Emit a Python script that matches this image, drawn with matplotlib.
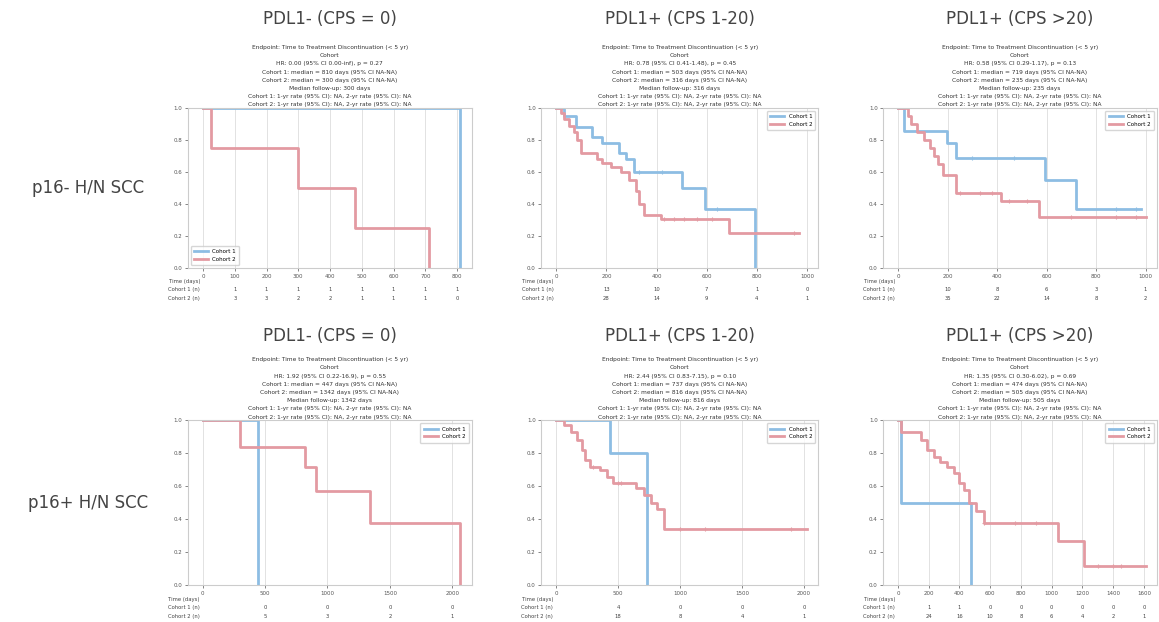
import numpy as np
from matplotlib import pyplot as plt
from matplotlib import transforms

# panel labels
col_titles = ['PDL1- (CPS = 0)', 'PDL1+ (CPS 1-20)', 'PDL1+ (CPS >20)']
row_labels = ['p16- H/N SCC', 'p16+ H/N SCC']
group_names = ['Cohort 1', 'Cohort 2']

# x ticks of each panel (row-major)
xticks = [
    [0, 100, 200, 300, 400, 500, 600, 700, 800],
    [0, 200, 400, 600, 800, 1000],
    [0, 200, 400, 600, 800, 1000],
    [0, 500, 1000, 1500, 2000],
    [0, 500, 1000, 1500, 2000],
    [0, 200, 400, 600, 800, 1000, 1200, 1400, 1600],
]

# Kaplan-Meier step data: event times and survival after each step
# last entry of each list = end of follow up
blue_t = [
    [0, 810, 810],
    [0, 32, 77, 142, 181, 252, 277, 310, 503, 594, 794, 794],
    [0, 26, 196, 235, 595, 719, 980],
    [0, 447, 447],
    [0, 434, 737, 737],
    [0, 21, 474, 474],
]
blue_s = [
    [1.0, 0.0, 0.0],
    [1.0, 0.95, 0.88, 0.82, 0.78, 0.72, 0.68, 0.60, 0.50, 0.37, 0.0, 0.0],
    [1.0, 0.86, 0.78, 0.69, 0.55, 0.37, 0.37],
    [1.0, 0.0, 0.0],
    [1.0, 0.80, 0.0, 0.0],
    [1.0, 0.50, 0.0, 0.0],
]
red_t = [
    [0, 26, 300, 479, 710, 710],
    [0, 19, 32, 52, 71, 84, 97, 161, 181, 219, 258, 290, 316, 329, 348, 419, 690, 968],
    [0, 39, 52, 78, 105, 131, 144, 163, 183, 235, 418, 569, 1000],
    [0, 295, 816, 908, 1342, 2066, 2066],
    [0, 66, 118, 171, 211, 237, 276, 355, 408, 461, 645, 711, 763, 816, 868, 2026],
    [0, 21, 147, 189, 232, 274, 316, 368, 400, 432, 463, 505, 558, 1042, 1211, 1611],
]
red_s = [
    [1.0, 0.75, 0.50, 0.25, 0.0, 0.0],
    [1.0, 0.97, 0.93, 0.89, 0.85, 0.80, 0.72, 0.68, 0.66, 0.63, 0.60, 0.55, 0.48, 0.40, 0.33, 0.31, 0.22, 0.22],
    [1.0, 0.95, 0.90, 0.85, 0.80, 0.75, 0.70, 0.65, 0.58, 0.47, 0.42, 0.32, 0.32],
    [1.0, 0.84, 0.72, 0.57, 0.38, 0.0, 0.0],
    [1.0, 0.97, 0.93, 0.88, 0.82, 0.76, 0.72, 0.70, 0.66, 0.62, 0.59, 0.55, 0.50, 0.46, 0.34, 0.34],
    [1.0, 0.93, 0.88, 0.82, 0.78, 0.75, 0.72, 0.68, 0.62, 0.58, 0.50, 0.45, 0.38, 0.27, 0.12, 0.12],
]
# censored observations (times)
blue_cens = [[], [330, 420, 640], [300, 470, 880, 960], [], [], []]
red_cens = [[], [430, 470, 510, 560, 620, 950], [250, 330, 380, 450, 520, 700, 880, 960],
            [], [300, 500, 520, 1000, 1200, 1900], [560, 760, 900, 1300, 1400, 1450]]

# numbers at risk under each x tick
risk_blue = [
    [1, 1, 1, 1, 1, 1, 1, 1, 1],
    [18, 13, 10, 7, 1, 0],
    [14, 10, 8, 6, 3, 1],
    [1, 0, 0, 0, 0],
    [5, 4, 0, 0, 0],
    [2, 1, 1, 0, 0, 0, 0, 0, 0],
]
risk_red = [
    [4, 3, 3, 2, 2, 1, 1, 1, 0],
    [45, 28, 14, 9, 4, 1],
    [60, 35, 22, 14, 8, 2],
    [7, 5, 3, 2, 1],
    [40, 18, 8, 4, 1],
    [30, 24, 16, 10, 8, 6, 4, 2, 1],
]

# summary statistics printed above each panel
hr_text = ['0.00 (95% CI 0.00-inf), p = 0.27', '0.78 (95% CI 0.41-1.48), p = 0.45',
           '0.58 (95% CI 0.29-1.17), p = 0.13', '1.92 (95% CI 0.22-16.9), p = 0.55',
           '2.44 (95% CI 0.83-7.15), p = 0.10', '1.35 (95% CI 0.30-6.02), p = 0.69']
med_blue = ['810', '503', '719', '447', '737', '474']
med_red = ['300', '316', '235', '1342', '816', '505']

blue = '#8dbde3'
red = '#e39aa2'
txt = '#444444'

fig = plt.figure(figsize=(11.59, 6.22), dpi=100)
lefts = [0.162, 0.467, 0.762]
widths = [0.245, 0.239, 0.236]
bottoms = [0.569, 0.059]
heights = [0.257, 0.265]
title_y = [1.50, 1.46]

for i in range(2):
    for j in range(3):
        k = 3*i + j
        ax = fig.add_axes([lefts[j], bottoms[i], widths[j], heights[i]])
        ax.step(blue_t[k], blue_s[k], where='post', color=blue, lw=2, label=group_names[0])
        ax.step(red_t[k], red_s[k], where='post', color=red, lw=2, label=group_names[1])
        # censor ticks
        for cens, tt, ss, c in [(blue_cens[k], blue_t[k], blue_s[k], blue), (red_cens[k], red_t[k], red_s[k], red)]:
            if cens:
                yv = [ss[np.searchsorted(tt, x, side='right') - 1] for x in cens]
                ax.plot(cens, yv, '+', color=c, ms=3, mew=0.8)

        span = xticks[k][-1] - xticks[k][0]
        right = max(blue_t[k][-1], red_t[k][-1])
        ax.set_xlim(-0.06*span, max(right, xticks[k][-1]) + 0.045*span)
        ax.set_ylim(0, 1.0)
        ax.set_xticks(xticks[k])
        ax.set_yticks([0, 0.2, 0.4, 0.6, 0.8, 1.0])
        ax.tick_params(labelsize=4, colors='#555555', length=2, width=0.5, pad=2)
        ax.grid(axis='x', color='#dddddd', lw=0.6)
        for sp in ax.spines.values():
            sp.set_color('#cccccc')
            sp.set_linewidth(0.8)
        loc = 'lower left' if k == 0 else 'upper right'
        ax.legend(loc=loc, fontsize=4, frameon=True, handlelength=2.5, borderpad=0.6)

        # at-risk table, labels end just left of the zero tick
        trans = ax.get_xaxis_transform()
        lab_tr = trans + transforms.ScaledTranslation(-2/72, 0, fig.dpi_scale_trans)
        rows_y = [-0.085, -0.135, -0.19]
        ax.text(0, rows_y[0], 'Time (days)', transform=lab_tr, fontsize=3.8, ha='right', va='center', color=txt)
        ax.text(0, rows_y[1], group_names[0] + ' (n)', transform=lab_tr, fontsize=3.8, ha='right', va='center', color=txt)
        ax.text(0, rows_y[2], group_names[1] + ' (n)', transform=lab_tr, fontsize=3.8, ha='right', va='center', color=txt)
        for x, nb, nr in zip(xticks[k][1:], risk_blue[k][1:], risk_red[k][1:]):
            ax.text(x, rows_y[1], str(nb), transform=trans, fontsize=3.8, ha='center', va='center', color=txt)
            ax.text(x, rows_y[2], str(nr), transform=trans, fontsize=3.8, ha='center', va='center', color=txt)

        lines = ['Endpoint: Time to Treatment Discontinuation (< 5 yr)',
                 'Cohort',
                 'HR: ' + hr_text[k],
                 'Cohort 1: median = ' + med_blue[k] + ' days (95% CI NA-NA)',
                 'Cohort 2: median = ' + med_red[k] + ' days (95% CI NA-NA)',
                 'Median follow-up: ' + med_red[k] + ' days',
                 'Cohort 1: 1-yr rate (95% CI): NA, 2-yr rate (95% CI): NA',
                 'Cohort 2: 1-yr rate (95% CI): NA, 2-yr rate (95% CI): NA']
        ax.text(0.5, 1.005, '\n'.join(lines), transform=ax.transAxes, fontsize=4.2,
                ha='center', va='bottom', linespacing=1.8, color='#333333')
        ax.text(0.5, title_y[i], col_titles[j], transform=ax.transAxes, fontsize=12,
                ha='center', va='bottom', color=txt)

    fig.text(0.076, bottoms[i] + heights[i]*0.5, row_labels[i], fontsize=12,
             ha='center', va='center', color=txt)

fig.savefig('out.png', dpi=100)
